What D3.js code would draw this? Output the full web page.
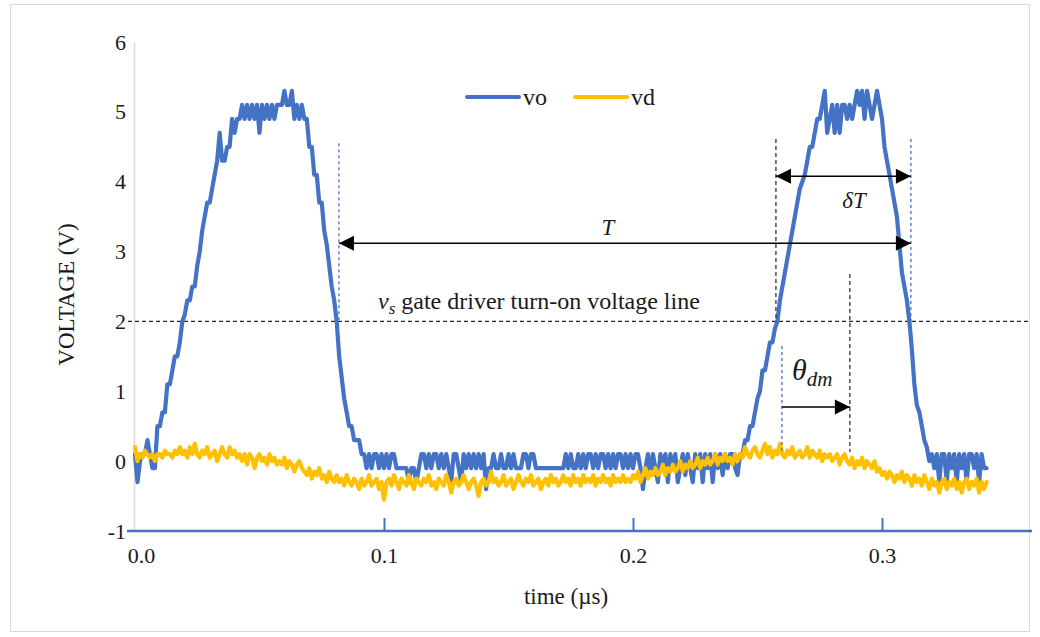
<!DOCTYPE html>
<html>
<head>
<meta charset="utf-8">
<script src="https://cdn.jsdelivr.net/npm/d3@7"></script>
<style>
  html, body { margin: 0; padding: 0; background: #fff; }
  svg { display: block; }
  text { font-family: "Liberation Serif", "Times New Roman", serif; fill: #1a1a1a; }
</style>
</head>
<body>
<svg id="chart" width="1040" height="637"></svg>
<script>
// Oscilloscope capture: sampled every 1 ns starting at t = 0 µs
const sampleStart = 0;      // µs
const sampleStep = 0.001;   // µs

// Output voltage vo (V)
const vo = [
  0.1, -0.3, 0.0, 0.1, 0.1, 0.3, 0.1, -0.1, -0.1, 0.5,
  0.5, 0.7, 0.7, 1.1, 1.1, 1.3, 1.5, 1.5, 1.7, 2.0,
  2.1, 2.3, 2.3, 2.5, 2.5, 2.8, 3.0, 3.3, 3.5, 3.7,
  3.7, 3.9, 4.1, 4.3, 4.7, 4.3, 4.3, 4.5, 4.5, 4.9,
  4.7, 4.9, 4.9, 5.1, 4.9, 5.1, 4.9, 5.1, 4.9, 5.1,
  4.7, 5.1, 4.9, 5.1, 4.9, 5.1, 4.9, 5.1, 5.1, 5.1,
  5.3, 5.1, 5.1, 5.3, 4.9, 5.1, 4.9, 5.1, 4.9, 4.9,
  4.5, 4.5, 4.1, 4.1, 3.7, 3.7, 3.3, 3.1, 2.8, 2.5,
  2.3, 2.0, 1.5, 1.2, 0.9, 0.7, 0.5, 0.5, 0.3, 0.3,
  0.3, 0.1, 0.1, -0.1, 0.1, -0.1, 0.1, 0.1, -0.1, 0.1,
  -0.1, 0.1, -0.1, 0.1, 0.1, -0.1, -0.1, -0.1, -0.1, -0.1,
  -0.3, -0.1, -0.1, -0.3, -0.1, 0.1, 0.1, -0.1, 0.1, -0.1,
  0.1, 0.1, -0.1, 0.1, -0.1, 0.1, -0.1, -0.3, 0.1, 0.1,
  -0.1, -0.3, 0.1, -0.1, 0.1, -0.1, 0.1, -0.1, 0.1, -0.1,
  0.1, -0.4, -0.1, -0.1, 0.1, -0.1, -0.1, 0.1, -0.1, -0.1,
  0.1, -0.1, 0.1, -0.1, -0.1, -0.1, 0.1, 0.1, -0.1, 0.1,
  0.1, -0.1, -0.1, -0.1, -0.1, -0.1, -0.1, -0.1, -0.1, -0.1,
  -0.1, -0.1, -0.1, 0.1, -0.1, 0.1, -0.1, -0.1, 0.1, -0.1,
  0.1, -0.1, 0.1, 0.1, -0.1, 0.1, -0.1, 0.1, 0.1, -0.1,
  0.1, -0.1, 0.1, -0.1, 0.1, 0.1, -0.1, 0.1, -0.1, 0.1,
  -0.1, 0.1, 0.1, -0.1, -0.4, -0.1, 0.1, -0.2, 0.1, -0.1,
  -0.3, 0.1, -0.1, 0.1, -0.3, 0.1, -0.1, 0.1, -0.3, -0.1,
  0.1, -0.2, 0.1, -0.1, -0.3, 0.1, -0.1, 0.1, -0.3, 0.1,
  -0.1, 0.1, -0.3, 0.1, -0.1, 0.1, -0.2, 0.1, -0.1, 0.1,
  0.1, -0.1, -0.2, 0.1, 0.1, 0.3, 0.3, 0.5, 0.5, 0.7,
  0.9, 1.0, 1.3, 1.3, 1.5, 1.7, 1.7, 1.9, 2.0, 2.3,
  2.5, 2.7, 2.9, 3.1, 3.3, 3.5, 3.7, 3.9, 4.0, 4.1,
  4.3, 4.5, 4.5, 4.7, 4.9, 4.9, 5.1, 5.3, 4.7, 4.9,
  5.1, 4.7, 5.1, 4.7, 5.1, 5.1, 4.9, 5.1, 4.9, 5.1,
  5.3, 5.1, 5.3, 4.9, 5.3, 5.1, 4.9, 5.1, 5.3, 5.1,
  4.9, 4.5, 4.3, 4.1, 3.9, 3.7, 3.5, 3.1, 2.7, 2.5,
  2.3, 2.0, 1.6, 1.1, 0.8, 0.7, 0.5, 0.3, 0.2, 0.0,
  0.1, -0.1, 0.1, -0.3, 0.1, 0.1, -0.3, 0.1, -0.1, 0.1,
  -0.3, 0.1, -0.1, 0.1, -0.3, 0.1, 0.1, -0.1, 0.1, -0.3,
  0.1, -0.1, -0.1
];

// Drain-side voltage vd (V)
const vd = [
  0.2, 0.0, 0.1, 0.05, 0.15, 0.1, 0.05, 0.1, 0.0, 0.1,
  0.1, 0.05, 0.15, 0.1, 0.1, 0.05, 0.15, 0.1, 0.2, 0.1,
  0.15, 0.05, 0.2, 0.1, 0.25, 0.1, 0.05, 0.15, 0.1, 0.2,
  0.05, 0.1, 0.15, 0.0, 0.1, 0.2, 0.1, 0.05, 0.2, 0.1,
  0.15, 0.05, 0.1, 0.0, 0.1, -0.05, 0.1, 0.05, -0.1, 0.05,
  0.1, 0.0, 0.05, -0.05, 0.1, 0.0, 0.05, -0.05, 0.0, -0.05,
  0.05, -0.1, 0.0, -0.05, -0.15, -0.05, 0.0, -0.1, -0.15, -0.2,
  -0.1, -0.25, -0.15, -0.2, -0.1, -0.25, -0.2, -0.3, -0.15, -0.25,
  -0.3, -0.2, -0.3, -0.25, -0.35, -0.2, -0.3, -0.35, -0.25, -0.3,
  -0.4, -0.25, -0.35, -0.3, -0.2, -0.35, -0.3, -0.25, -0.4, -0.3,
  -0.55, -0.3, -0.25, -0.35, -0.2, -0.3, -0.4, -0.25, -0.3, -0.35,
  -0.2, -0.3, -0.4, -0.25, -0.3, -0.35, -0.25, -0.3, -0.2, -0.35,
  -0.3, -0.4, -0.25, -0.3, -0.35, -0.2, -0.3, -0.45, -0.3, -0.25,
  -0.35, -0.3, -0.2, -0.3, -0.4, -0.3, -0.25, -0.35, -0.5, -0.3,
  -0.25, -0.35, -0.3, -0.15, -0.3, -0.25, -0.35, -0.3, -0.2, -0.35,
  -0.3, -0.25, -0.4, -0.3, -0.2, -0.3, -0.35, -0.25, -0.3, -0.2,
  -0.35, -0.3, -0.25, -0.4, -0.3, -0.25, -0.35, -0.2, -0.3, -0.25,
  -0.35, -0.3, -0.2, -0.3, -0.25, -0.35, -0.2, -0.3, -0.25, -0.35,
  -0.2, -0.3, -0.25, -0.3, -0.2, -0.35, -0.25, -0.3, -0.2, -0.3,
  -0.25, -0.35, -0.2, -0.3, -0.25, -0.3, -0.2, -0.3, -0.25, -0.3,
  -0.2, -0.25, -0.15, -0.3, -0.2, -0.1, -0.25, -0.15, -0.2, -0.1,
  -0.2, -0.15, -0.05, -0.2, -0.1, -0.15, -0.05, -0.15, -0.1, 0.0,
  -0.15, -0.05, -0.1, 0.0, -0.1, -0.05, 0.05, -0.1, 0.0, -0.05,
  0.05, -0.05, 0.0, 0.1, -0.05, 0.05, 0.0, 0.1, 0.0, 0.05,
  -0.05, 0.1, 0.0, 0.1, 0.05, 0.2, 0.1, 0.05, 0.15, 0.2,
  0.1, 0.05, 0.15, 0.25, 0.1, 0.2, 0.05, 0.15, 0.1, 0.25,
  0.1, 0.05, 0.15, 0.1, 0.2, 0.05, 0.1, 0.15, 0.05, 0.1,
  0.2, 0.05, 0.15, 0.1, 0.05, 0.15, 0.0, 0.1, 0.05, 0.1,
  0.0, 0.05, 0.1, -0.05, 0.05, 0.1, 0.0, -0.05, 0.05, -0.1,
  0.0, -0.05, 0.05, -0.1, 0.0, -0.05, -0.1, 0.0, -0.15, -0.1,
  -0.2, -0.15, -0.25, -0.15, -0.2, -0.3, -0.2, -0.25, -0.15, -0.3,
  -0.2, -0.25, -0.35, -0.2, -0.3, -0.25, -0.35, -0.2, -0.3, -0.4,
  -0.25, -0.35, -0.3, -0.45, -0.3, -0.25, -0.4, -0.3, -0.35, -0.25,
  -0.4, -0.3, -0.45, -0.3, -0.25, -0.4, -0.3, -0.35, -0.25, -0.45,
  -0.3, -0.4, -0.3
];

const seriesNames = ["vo", "vd"];
const seriesColors = ["#4472C4", "#FFC000"];
const xTicks = [0, 0.1, 0.2, 0.3];
const yTicks = [-1, 0, 1, 2, 3, 4, 5, 6];

// Gate-driver threshold and timing markers (µs / V)
const turnOnLevel = 2;
const periodStart = 0.0819, periodEnd = 0.3116;
const pulseStart = 0.2574, pulseEnd = 0.3116;
const delayStart = 0.2598, delayEnd = 0.2871;

const svg = d3.select("#chart");

// chart area border
svg.append("rect")
  .attr("x", 10.5).attr("y", 4.5).attr("width", 1019).attr("height", 627)
  .attr("fill", "#fff").attr("stroke", "#d9d9d9").attr("stroke-width", 1);

const x = d3.scaleLinear().domain([0, 0.36]).range([135, 1031.4]);
const y = d3.scaleLinear().domain([-1, 6]).range([531, 42]);

// y axis
const yAxis = svg.append("g")
  .attr("transform", `translate(${x(0) - 1},0)`)
  .call(d3.axisLeft(y).tickValues(yTicks).tickSize(0).tickPadding(8)
    .tickFormat(d => String(d)));
yAxis.select(".domain").attr("stroke", "#d9d9d9").attr("stroke-width", 1.5);
yAxis.selectAll("text").style("font-size", "22px").attr("fill", "#1a1a1a");

// x axis, ticks pointing into the plot
const xAxis = svg.append("g")
  .attr("transform", `translate(0,${y(-1)})`)
  .call(d3.axisBottom(x).tickValues(xTicks).tickSizeInner(-13).tickSizeOuter(0)
    .tickPadding(16).tickFormat(d3.format(".1f")));
xAxis.select(".domain").remove();
xAxis.selectAll(".tick line").attr("stroke", "#4472C4").attr("stroke-width", 2)
  .attr("display", d => d === 0 ? "none" : null);
xAxis.selectAll("text").style("font-size", "22px").attr("fill", "#1a1a1a")
  .attr("dx", d => d === 0 ? 6 : 0);
svg.append("line")
  .attr("x1", 127).attr("x2", 1032).attr("y1", y(-1)).attr("y2", y(-1))
  .attr("stroke", "#4472C4").attr("stroke-width", 2.5);

// axis titles
svg.append("text")
  .attr("transform", `translate(74,${(y(6) + y(-1)) / 2 + 8}) rotate(-90)`)
  .attr("text-anchor", "middle").style("font-size", "23px").text("VOLTAGE (V)");
svg.append("text")
  .attr("x", 566).attr("y", 604).attr("text-anchor", "middle")
  .style("font-size", "23px").text("time (µs)");

// 2 V turn-on threshold
svg.append("line")
  .attr("x1", 128).attr("x2", 1030).attr("y1", y(turnOnLevel)).attr("y2", y(turnOnLevel))
  .attr("stroke", "#222").attr("stroke-width", 1.3).attr("stroke-dasharray", "4,3");

const lbl = svg.append("text").attr("x", 378).attr("y", y(turnOnLevel) - 12)
  .style("font-size", "24px");
lbl.append("tspan").style("font-style", "italic").text("v");
lbl.append("tspan").style("font-style", "italic").style("font-size", "17px")
  .attr("dy", 5).text("s");
lbl.append("tspan").attr("dy", -5).text(" gate driver turn-on voltage line");

// series
const line = d3.line()
  .x((d, i) => x(sampleStart + i * sampleStep))
  .y(d => y(d));

[vo, vd].forEach((s, k) => {
  svg.append("path").datum(s)
    .attr("fill", "none").attr("stroke", seriesColors[k])
    .attr("stroke-width", 4.2).attr("stroke-linejoin", "round")
    .attr("stroke-linecap", "round").attr("d", line);
});

// timing markers
function vline(t, v0, v1, color, dash) {
  svg.append("line")
    .attr("x1", x(t)).attr("x2", x(t)).attr("y1", y(v0)).attr("y2", y(v1))
    .attr("stroke", color).attr("stroke-width", 1.3).attr("stroke-dasharray", dash);
}
function arrowHead(px, py, dir) {
  const L = 15, h = 7.5;
  svg.append("path")
    .attr("d", `M${px},${py} L${px - dir * L},${py - h} L${px - dir * L},${py + h} Z`)
    .attr("fill", "#000");
}
function hArrow(t0, t1, v, both) {
  const y0 = y(v);
  svg.append("line").attr("x1", x(t0)).attr("x2", x(t1)).attr("y1", y0).attr("y2", y0)
    .attr("stroke", "#000").attr("stroke-width", 1.5);
  arrowHead(x(t1), y0, 1);
  if (both) arrowHead(x(t0), y0, -1);
}

vline(periodStart, 4.55, turnOnLevel, "#4472C4", "3,3");
vline(pulseStart, 4.61, turnOnLevel, "#333", "4,3");
vline(pulseEnd, 4.61, turnOnLevel, "#4472C4", "3,3");
vline(delayEnd, 2.68, 0.13, "#333", "4,3");
vline(delayStart, 1.65, 0.13, "#4472C4", "3,3");

hArrow(periodStart, periodEnd, 3.12, true);
hArrow(pulseStart, pulseEnd, 4.08, true);
hArrow(delayStart, delayEnd, 0.775, false);

svg.append("text").attr("x", 608).attr("y", y(3.12) - 8)
  .attr("text-anchor", "middle").style("font-style", "italic").style("font-size", "23px").text("T");
svg.append("text").attr("x", 854).attr("y", 208)
  .attr("text-anchor", "middle").style("font-style", "italic").style("font-size", "23px").text("δT");
const th = svg.append("text").attr("x", 792).attr("y", 380).style("font-style", "italic")
  .style("font-size", "30px");
th.append("tspan").text("θ");
th.append("tspan").attr("dy", 6).style("font-size", "21px").text("dm");

// legend
const legend = svg.append("g");
const legendItems = [{ x0: 467, tx: 523 }, { x0: 575, tx: 631 }];
legendItems.forEach((it, k) => {
  legend.append("line").attr("x1", it.x0).attr("x2", it.x0 + 52)
    .attr("y1", 97).attr("y2", 97).attr("stroke", seriesColors[k])
    .attr("stroke-width", 4).attr("stroke-linecap", "round");
  legend.append("text").attr("x", it.tx).attr("y", 105)
    .style("font-size", "24px").text(seriesNames[k]);
});
</script>
</body>
</html>
